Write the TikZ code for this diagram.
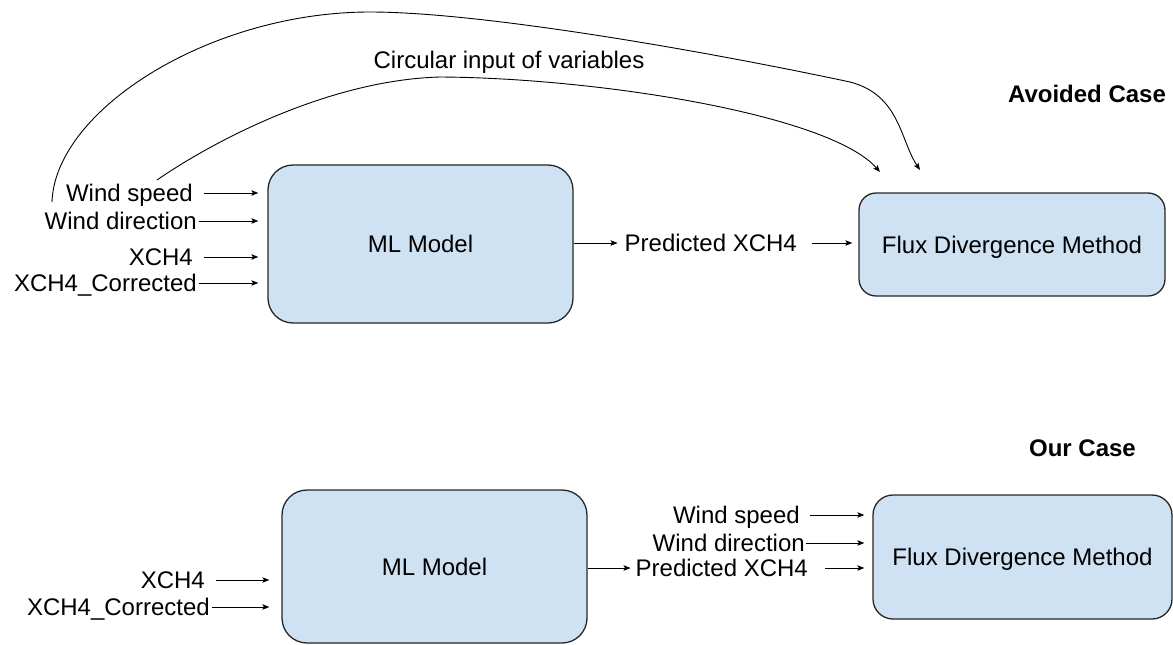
\documentclass[tikz,border=0pt]{standalone}
\usepackage{fontspec}
\setmainfont{Liberation Sans}
\usetikzlibrary{arrows.meta,positioning}
\definecolor{boxblue}{HTML}{CFE2F3}

\begin{document}
\begin{tikzpicture}[x=1pt, y=-1pt,
    box/.style={draw=black!85, fill=boxblue, rounded corners=25pt, line width=1.3pt, font=\fontsize{24}{28}\selectfont, text height=17.2pt, text depth=0pt, inner sep=0pt},
    lbl/.style={font=\fontsize{24}{28}\selectfont, inner sep=0pt, text height=17.2pt, text depth=0pt},
    ttl/.style={lbl, font=\fontsize{24}{28}\selectfont\bfseries},
    arr/.style={-{Stealth[length=7pt, width=5.5pt, inset=1.5pt]}, line width=0.9pt, black},
]
\useasboundingbox (0,0) rectangle (1173,645);

\node[box, minimum width=305pt, minimum height=158pt] (mlA) at (420.5,244) {ML Model};
\node[box, rounded corners=17pt, minimum width=306pt, minimum height=103pt] (fdA) at (1012,244.5) {Flux Divergence Method};
\node[box, minimum width=305pt, minimum height=153pt] (mlB) at (434.5,566.5) {ML Model};
\node[box, rounded corners=20pt, minimum width=299pt, minimum height=124pt] (fdB) at (1022.5,557) {Flux Divergence Method};

\node[ttl] (avoided) at (1087,94) {Avoided Case};
\node[ttl] (ours) at (1082.5,448) {Our Case};
\node[lbl] (circ) at (509,60) {Circular input of variables};

\node[lbl, anchor=east] (wsA) at (193,193) {Wind speed};
\node[lbl, anchor=east] (wdA) at (197,221) {Wind direction};
\node[lbl, anchor=east] (xA) at (193,257) {XCH4};
\node[lbl, anchor=east] (xcA) at (197,283) {XCH4\_Corrected};
\node[lbl, anchor=east] (predA) at (797,243) {Predicted XCH4};

\node[lbl, anchor=east] (xB) at (205,580) {XCH4};
\node[lbl, anchor=east] (xcB) at (210,607) {XCH4\_Corrected};
\node[lbl, anchor=east] (wsB) at (800,515) {Wind speed};
\node[lbl, anchor=east] (wdB) at (805,543) {Wind direction};
\node[lbl, anchor=east] (predB) at (808,568) {Predicted XCH4};

\draw[arr, shorten <=11pt, shorten >=9pt] (wsA.east) -- (wsA.east -| mlA.west);
\draw[arr, shorten <=2pt, shorten >=9pt] (wdA.east) -- (wdA.east -| mlA.west);
\draw[arr, shorten <=11pt, shorten >=9pt] (xA.east) -- (xA.east -| mlA.west);
\draw[arr, shorten <=2pt, shorten >=9pt] (xcA.east) -- (xcA.east -| mlA.west);
\draw[arr, shorten >=7pt] (predA.west -| mlA.east) -- (predA.west);
\draw[arr, shorten <=15pt, shorten >=6pt] (predA.east) -- (predA.east -| fdA.west);

\draw[arr, shorten <=11pt, shorten >=12pt] (xB.east) -- (xB.east -| mlB.west);
\draw[arr, shorten <=2pt, shorten >=12pt] (xcB.east) -- (xcB.east -| mlB.west);
\draw[arr, shorten >=5pt] (predB.west -| mlB.east) -- (predB.west);
\draw[arr, shorten <=17pt, shorten >=8pt] (predB.east) -- (predB.east -| fdB.west);
\draw[arr, shorten <=10pt, shorten >=8pt] (wsB.east) -- (wsB.east -| fdB.west);
\draw[arr, shorten <=1pt, shorten >=8pt] (wdB.east) -- (wdB.east -| fdB.west);

\coordinate (outerFrom) at (52,202);
\coordinate (outerTo) at (920,170);
\coordinate (innerFrom) at (157,180);
\coordinate (innerTo) at (880,172);
\draw[arr] (outerFrom) .. controls (55,110) and (210,12) .. (370,12)
    .. controls (480,12) and (700,50) .. (850,82)
    .. controls (900,95) and (900,140) .. (outerTo);
\draw[arr] (innerFrom) .. controls (215,140) and (330,80) .. (440,77)
    .. controls (600,78) and (830,115) .. (innerTo);
\end{tikzpicture}
\end{document}
